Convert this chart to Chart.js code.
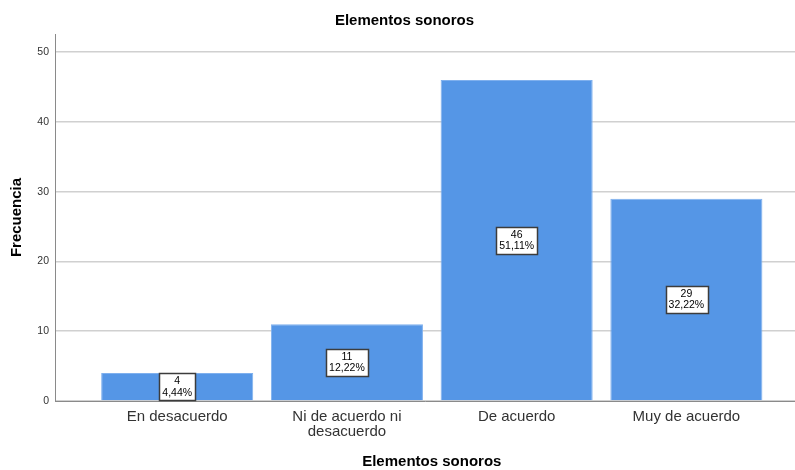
<!DOCTYPE html>
<html>
<head>
<meta charset="utf-8">
<script src="https://cdn.jsdelivr.net/npm/chart.js@4"></script>
<style>
  html, body { margin: 0; padding: 0; background: #fff; }
  #wrap { width: 795px; height: 470px; position: relative; }
</style>
</head>
<body>
<div id="wrap"><canvas id="c"></canvas></div>
<script>
const chartTitle = 'Elementos sonoros';
const xAxisTitle = 'Elementos sonoros';
const yAxisTitle = 'Frecuencia';
const categories = [['En desacuerdo'], ['Ni de acuerdo ni', 'desacuerdo'], ['De acuerdo'], ['Muy de acuerdo']];
const frequencies = [4, 11, 46, 29];
const percentLabels = ['4,44%', '12,22%', '51,11%', '32,22%'];
const yTicks = [0, 10, 20, 30, 40, 50];

const FONT = '"Liberation Sans", Arial, sans-serif';

const labelPlugin = {
  id: 'barLabels',
  afterDatasetsDraw(chart) {
    const ctx = chart.ctx;
    const meta = chart.getDatasetMeta(0);
    ctx.save();
    ctx.font = '10.5px ' + FONT;
    ctx.textAlign = 'center';
    ctx.textBaseline = 'middle';
    meta.data.forEach((el, i) => {
      const l1 = String(frequencies[i]);
      const l2 = percentLabels[i];
      const w = Math.max(ctx.measureText(l1).width, ctx.measureText(l2).width) + 6;
      const h = 27;
      const cx = el.x;
      const cy = (el.y + el.base) / 2;
      const x0 = Math.round(cx - w / 2) + 0.5;
      const y0 = Math.round(cy - h / 2) + 0.5;
      ctx.fillStyle = '#ffffff';
      ctx.fillRect(x0, y0, Math.round(w), h);
      ctx.strokeStyle = '#3c3c3c';
      ctx.lineWidth = 1.5;
      ctx.strokeRect(x0, y0, Math.round(w), h);
      ctx.fillStyle = '#000000';
      ctx.fillText(l1, cx, cy - 5.5);
      ctx.fillText(l2, cx, cy + 6);
    });
    ctx.restore();
  }
};

const titlesPlugin = {
  id: 'titles',
  afterDraw(chart) {
    const ctx = chart.ctx;
    ctx.save();
    ctx.font = 'bold 15px ' + FONT;
    ctx.fillStyle = '#000000';
    ctx.textAlign = 'center';
    ctx.textBaseline = 'middle';
    ctx.fillText(chartTitle, chart.width / 2 + 7, 21);
    const xs = chart.scales.x;
    ctx.fillText(xAxisTitle, xs.getPixelForValue((categories.length - 1) / 2), 462);
    ctx.restore();
  }
};

new Chart(document.getElementById('c'), {
  type: 'bar',
  data: {
    datasets: [{
      data: frequencies.map((v, i) => ({ x: i, y: v })),
      backgroundColor: '#5596e6',
      borderColor: '#7fb0ee',
      borderWidth: 1,
      barPercentage: 0.896,
      categoryPercentage: 1.0
    }]
  },
  options: {
    responsive: true,
    maintainAspectRatio: false,
    animation: false,
    devicePixelRatio: 1,
    layout: { padding: { top: 34, left: 0, right: 0, bottom: 0 } },
    plugins: {
      legend: { display: false },
      tooltip: { enabled: false },
      title: { display: false }
    },
    scales: {
      x: {
        type: 'linear',
        min: -0.72,
        max: 3.64,
        offset: false,
        afterBuildTicks(scale) { scale.ticks = categories.map((_, i) => ({ value: i })); },
        afterFit(scale) { scale.height = 69; },
        grid: { display: false, drawTicks: false },
        border: { display: true, color: '#8a8a8a', width: 1 },
        ticks: {
          autoSkip: false,
          maxRotation: 0,
          padding: 8,
          color: '#333333',
          font: { family: FONT, size: 15, lineHeight: 1.0 },
          callback: (value) => categories[value] || ''
        }
      },
      y: {
        min: 0,
        max: 52.6,
        afterBuildTicks(scale) { scale.ticks = yTicks.map(v => ({ value: v })); },
        afterFit(scale) { scale.width = 55; },
        grid: { color: '#d0d0d0', lineWidth: 1.5, drawTicks: false },
        border: { display: true, color: '#8a8a8a', width: 1 },
        ticks: {
          padding: 6,
          color: '#333333',
          font: { family: FONT, size: 10.5 }
        },
        title: {
          display: true,
          text: yAxisTitle,
          color: '#000000',
          font: { family: FONT, size: 15, weight: 'bold' },
          padding: { top: 8, bottom: 0 }
        }
      }
    }
  },
  plugins: [labelPlugin, titlesPlugin]
});
</script>
</body>
</html>
